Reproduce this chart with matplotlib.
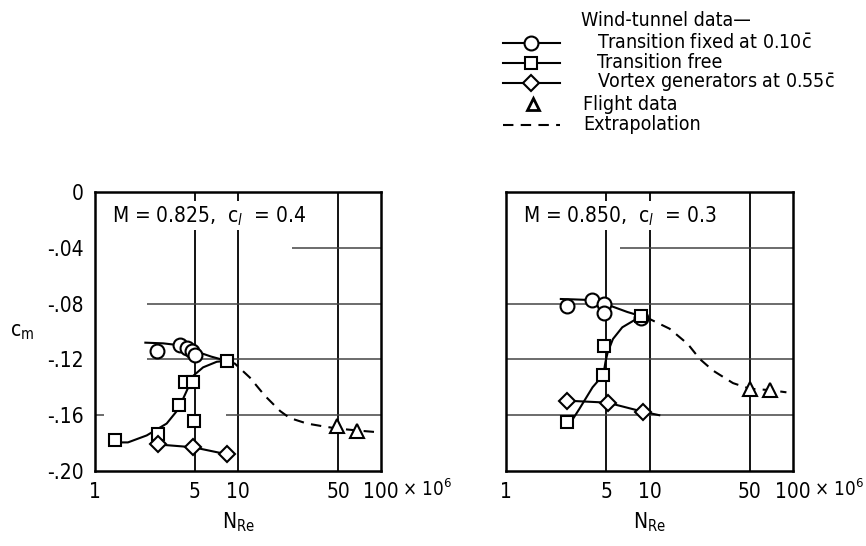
import matplotlib
matplotlib.use("Agg")
import matplotlib.pyplot as plt
from matplotlib import font_manager

# pick a narrow sans family if one is installed
_names = {f.name for f in font_manager.fontManager.ttflist}
_cond = [f for f in font_manager.fontManager.ttflist
         if f.name == 'DejaVu Sans' and str(f.stretch) in ('condensed', '75', 'semi-condensed')]
if 'Liberation Sans Narrow' in _names:
    FAM = 'Liberation Sans Narrow'
    STRETCH = 'normal'
elif _cond:
    FAM = 'DejaVu Sans'
    STRETCH = 'condensed'
else:
    FAM = 'DejaVu Sans'
    STRETCH = 'normal'
plt.rcParams['font.family'] = [FAM, 'DejaVu Sans']
plt.rcParams['font.stretch'] = STRETCH
plt.rcParams['mathtext.fontset'] = 'custom'
plt.rcParams['mathtext.rm'] = FAM
plt.rcParams['mathtext.it'] = FAM + ':italic'
plt.rcParams['mathtext.default'] = 'rm'
SZ = 15 if STRETCH != 'normal' or FAM != 'DejaVu Sans' else 13.5
LSZ = 14 if STRETCH != 'normal' or FAM != 'DejaVu Sans' else 12.5

# ---------------- data: left panel (M = 0.825, cl = 0.4) ----------------
L_circle_x = [2.70, 3.95, 4.40, 4.75, 5.0]
L_circle_y = [-0.114, -0.110, -0.112, -0.114, -0.117]
L_circle_fair_x = [2.25, 3.0, 4.0, 5.0, 6.5, 8.3]
L_circle_fair_y = [-0.108, -0.1085, -0.110, -0.114, -0.118, -0.121]

L_square_x = [1.38, 2.77, 3.89, 4.26, 4.87, 4.95, 8.34]
L_square_y = [-0.178, -0.1735, -0.153, -0.1365, -0.1365, -0.164, -0.121]
L_square_fair_x = [1.38, 1.7, 2.3, 3.17, 3.83, 4.38, 4.87, 5.7, 7.1, 8.3]
L_square_fair_y = [-0.1795, -0.1795, -0.1745, -0.166, -0.1556, -0.1425, -0.1317, -0.1257, -0.1217, -0.121]

L_diamond_x = [2.77, 4.87, 8.34]
L_diamond_y = [-0.181, -0.183, -0.188]
L_diamond_fair_x = [2.5, 2.77, 4.87, 8.34]
L_diamond_fair_y = [-0.1795, -0.181, -0.183, -0.188]

L_flight_x = [49, 68]
L_flight_y = [-0.168, -0.171]
L_extrap_x = [8.6, 9.5, 12.1, 15.4, 19.7, 23, 30.4, 39.5, 49, 69, 90]
L_extrap_y = [-0.1215, -0.123, -0.133, -0.146, -0.157, -0.162, -0.166, -0.168, -0.1695, -0.171, -0.172]

# ---------------- data: right panel (M = 0.850, cl = 0.3) ----------------
R_circle_x = [2.68, 3.97, 4.85, 4.85, 8.75]
R_circle_y = [-0.082, -0.0775, -0.080, -0.0865, -0.0905]
R_circle_fair_x = [2.41, 3.0, 3.97, 4.85, 7.0, 8.75, 10.0]
R_circle_fair_y = [-0.0767, -0.077, -0.0775, -0.080, -0.086, -0.089, -0.091]

R_square_x = [2.68, 4.77, 4.85, 8.75]
R_square_y = [-0.165, -0.131, -0.1105, -0.089]
R_square_fair_x = [2.75, 3.24, 4.01, 4.77, 4.93, 5.11, 5.56, 6.46, 8.75]
R_square_fair_y = [-0.167, -0.1556, -0.140, -0.131, -0.122, -0.115, -0.1054, -0.097, -0.089]

R_diamond_x = [2.68, 5.1, 9.0]
R_diamond_y = [-0.1496, -0.151, -0.1575]
R_diamond_fair_x = [2.68, 5.1, 9.0, 11.7]
R_diamond_fair_y = [-0.1496, -0.151, -0.1575, -0.160]

R_flight_x = [50, 69]
R_flight_y = [-0.141, -0.142]
R_extrap_x = [9.3, 10, 13.8, 18.5, 22.4, 27.7, 38.2, 50, 69, 90]
R_extrap_y = [-0.0905, -0.091, -0.098, -0.109, -0.1197, -0.128, -0.137, -0.141, -0.142, -0.1436]

x_ticks = [1, 5, 10, 50, 100]
x_ticklabels = ['1', '5', '10', '50', '100']
y_ticks = [0, -0.04, -0.08, -0.12, -0.16, -0.20]
y_ticklabels = ['0', '-.04', '-.08', '-.12', '-.16', '-.20']

fig = plt.figure(figsize=(8.66, 5.46), dpi=100)
axL = fig.add_axes([95/866, 1-471/546, 286/866, 279/546])
axR = fig.add_axes([506/866, 1-471/546, 287/866, 279/546])

mk = dict(markerfacecolor='white', markeredgecolor='black', markeredgewidth=1.5,
          linestyle='none', zorder=5)
fair = dict(color='black', lw=1.5, zorder=4)
dash = dict(color='black', lw=1.5, linestyle=(0, (5, 3.5)), zorder=4)

def panel(ax, cx, cy, cfx, cfy, sx, sy, sfx, sfy, dx, dy, dfx, dfy, fx, fy, ex, ey,
          hgrid, title):
    ax.set_xscale('log')
    ax.set_xlim(1, 100)
    ax.set_ylim(-0.20, 0)
    for v in [5, 10, 50]:
        ax.axvline(v, color='black', lw=1.3, zorder=1)
    for y, x0 in hgrid:
        ax.hlines(y, x0, 100, color='#444444', lw=1.1, zorder=1)
    ax.plot(cfx, cfy, **fair)
    ax.plot(sfx, sfy, **fair)
    ax.plot(dfx, dfy, **fair)
    ax.plot(ex, ey, **dash)
    ax.plot(cx, cy, marker='o', markersize=10, **mk)
    ax.plot(sx, sy, marker='s', markersize=9, **mk)
    ax.plot(dx, dy, marker='D', markersize=8.5, **mk)
    ax.plot(fx, fy, marker='^', markersize=10, **mk)
    ax.text(0.06, 0.915, title, transform=ax.transAxes, fontsize=SZ,
            ha='left', va='center', zorder=3,
            bbox=dict(facecolor='white', edgecolor='none', pad=2))
    for s in ax.spines.values():
        s.set_linewidth(1.8)
    ax.set_xticks(x_ticks)
    ax.set_xticklabels(x_ticklabels, fontsize=SZ)
    ax.xaxis.set_minor_locator(matplotlib.ticker.NullLocator())
    ax.tick_params(axis='both', length=0, pad=8)
    ax.set_xlabel(r'N$_{\mathrm{Re}}$', fontsize=SZ, labelpad=6)
    ax.annotate(r'$\times$ 10$^{6}$', xy=(1.0, 0), xycoords='axes fraction',
                xytext=(15, -13), textcoords='offset points', fontsize=SZ - 1.5,
                ha='left', va='center')
    ax.patch.set_alpha(0)

panel(axL, L_circle_x, L_circle_y, L_circle_fair_x, L_circle_fair_y,
      L_square_x, L_square_y, L_square_fair_x, L_square_fair_y,
      L_diamond_x, L_diamond_y, L_diamond_fair_x, L_diamond_fair_y,
      L_flight_x, L_flight_y, L_extrap_x, L_extrap_y,
      [(-0.04, 24), (-0.08, 2.3), (-0.12, 2.3), (-0.16, 8.3)],
      r'M = 0.825,  c$_{\mathit{l}}$  = 0.4')
axL.hlines(-0.16, 1, 1.15, color='#444444', lw=1.1)
panel(axR, R_circle_x, R_circle_y, R_circle_fair_x, R_circle_fair_y,
      R_square_x, R_square_y, R_square_fair_x, R_square_fair_y,
      R_diamond_x, R_diamond_y, R_diamond_fair_x, R_diamond_fair_y,
      R_flight_x, R_flight_y, R_extrap_x, R_extrap_y,
      [(-0.04, 6.2), (-0.08, 1), (-0.12, 1), (-0.16, 1)],
      r'M = 0.850,  c$_{\mathit{l}}$  = 0.3')

axL.set_yticks(y_ticks)
axL.set_yticklabels(y_ticklabels, fontsize=SZ)
axR.set_yticks([])
axL.set_ylabel(r'c$_{\mathrm{m}}$', fontsize=SZ, rotation=0, labelpad=18, va='center')

# ---------------- legend (figure coordinates in pixels) ----------------
lg = fig.add_axes([0, 0, 1, 1])
lg.set_xlim(0, 866)
lg.set_ylim(546, 0)
lg.axis('off')
lg.patch.set_alpha(0)
legend_labels = ['Transition fixed at 0.10$\\bar{\\mathrm{c}}$', 'Transition free',
                 'Vortex generators at 0.55$\\bar{\\mathrm{c}}$']
legend_markers = ['o', 's', 'D']
legend_sizes = [10, 9, 8.5]
rows = [43, 63, 83]
lg.text(581, 20, 'Wind-tunnel data\u2014', fontsize=LSZ, ha='left', va='center')
for lab, m, ms, y in zip(legend_labels, legend_markers, legend_sizes, rows):
    lg.plot([503, 560], [y, y], color='black', lw=1.5)
    lg.plot([531], [y], marker=m, markersize=ms, markerfacecolor='white',
            markeredgecolor='black', markeredgewidth=1.5)
    lg.text(597, y, lab, fontsize=LSZ, ha='left', va='center')
lg.plot([533], [104], marker='^', markersize=8, markerfacecolor='white',
        markeredgecolor='black', markeredgewidth=2)
lg.text(583, 104, 'Flight data', fontsize=LSZ, ha='left', va='center')
lg.plot([503, 560], [125, 125], **dash)
lg.text(583, 125, 'Extrapolation', fontsize=LSZ, ha='left', va='center')

fig.savefig('out.png', dpi=100)
